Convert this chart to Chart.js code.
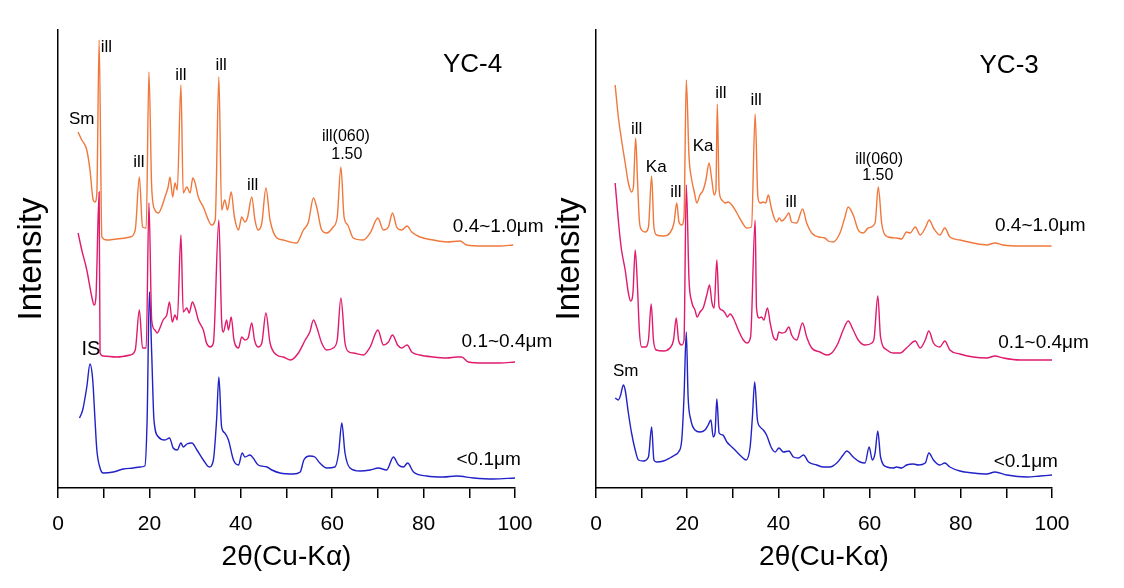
<!DOCTYPE html>
<html><head><meta charset="utf-8">
<script src="https://cdn.jsdelivr.net/npm/chart.js@4.4.1/dist/chart.umd.min.js"></script>
<style>
html,body{margin:0;padding:0;background:#fff;}
body{width:1124px;height:588px;position:relative;overflow:hidden;}
#wa{position:absolute;left:0;top:0;width:562px;height:588px;}
#wb{position:absolute;left:540px;top:0;width:584px;height:588px;}
</style></head><body>
<div id="wa"><canvas id="ca"></canvas></div>
<div id="wb"><canvas id="cb"></canvas></div>
<script>
// ---------- data (2θ in degrees, intensity in arbitrary offset units) ----------
const xTickLabels = [0, 20, 40, 60, 80, 100];
const panelTitles = ['YC-4', 'YC-3'];
const seriesNames = ['0.4~1.0μm', '0.1~0.4μm', '<0.1μm'];
const xTitle = '2θ(Cu-Kα)';
const yTitle = 'Intensity';

const yc4_04_10 = [[4.4,356],[5.2,348],[5.9,343],[6.3,338],[7.0,318],[7.7,288],[8.1,286],[8.5,295],[9.0,448],[9.6,251],[10.7,248],[12.8,249],[15.8,251],[16.9,258],[17.8,311],[18.5,261],[19.3,260],[19.9,416],[20.5,301],[21.2,278],[22.0,275],[22.7,281],[23.4,291],[24.1,301],[24.5,311],[25.1,291],[25.6,305],[26.1,298],[26.9,403],[27.4,295],[28.2,301],[28.9,295],[29.5,310],[30.0,305],[30.7,291],[31.8,281],[32.9,268],[33.6,263],[34.4,268],[35.2,411],[35.8,278],[36.5,288],[37.1,278],[37.9,296],[38.6,271],[39.5,258],[40.2,271],[40.9,266],[41.5,271],[42.4,291],[43.1,268],[43.8,258],[44.6,265],[45.5,300],[46.4,268],[47.9,250],[49.3,248],[50.8,246],[52.2,245],[53.7,258],[54.8,266],[55.9,290],[56.6,281],[57.7,258],[58.8,255],[60.2,261],[61.1,271],[61.9,321],[62.6,271],[63.4,263],[64.6,250],[66.8,248],[68.3,255],[70.0,270],[71.2,258],[72.3,261],[73.2,275],[74.1,261],[75.2,258],[76.4,262],[77.4,256],[79.2,251],[82.1,248],[85.1,246],[88.0,247],[89.4,243],[93.1,242],[96.7,242],[99.6,243]];
const yc4_01_04 = [[4.4,255],[5.2,238],[6.3,218],[7.4,191],[7.9,183],[8.3,191],[9.0,296],[9.2,135],[9.9,132],[12.8,131],[15.8,133],[16.9,138],[17.8,178],[18.5,140],[19.3,140],[19.9,285],[20.5,168],[21.2,158],[21.7,155],[22.3,160],[23.0,168],[23.8,173],[24.4,186],[25.0,166],[25.6,173],[26.1,168],[26.9,253],[27.4,176],[28.2,180],[28.7,175],[29.4,186],[30.0,180],[30.7,168],[31.8,158],[32.5,145],[33.3,141],[34.0,145],[35.2,268],[35.8,168],[36.2,156],[36.9,168],[37.3,158],[37.9,171],[38.5,148],[39.5,140],[40.2,151],[40.9,148],[41.6,150],[42.4,165],[43.0,148],[43.8,141],[44.6,145],[45.5,175],[46.4,145],[47.9,133],[49.3,131],[50.9,128],[52.6,135],[54.1,148],[55.1,156],[55.9,168],[56.6,161],[57.7,145],[58.8,138],[60.2,140],[61.1,148],[61.9,190],[62.8,145],[63.7,136],[64.6,135],[66.8,133],[68.3,141],[70.0,158],[71.2,143],[72.3,146],[73.2,153],[74.3,143],[75.2,140],[76.4,143],[77.4,136],[79.2,133],[82.1,131],[85.1,130],[87.2,131],[88.3,131],[89.8,126],[93.1,125],[96.7,125],[100,126]];
const yc4_lt01 = [[4.7,70],[5.4,78],[6.3,101],[7.0,124],[7.6,108],[8.1,68],[8.5,38],[9.2,20],[9.9,15],[12.1,16],[14.3,19],[16.5,20],[17.9,21],[19.0,22],[19.5,68],[20.0,196],[20.5,135],[21.0,68],[22.0,51],[23.4,48],[24.4,50],[25.2,40],[26.1,38],[26.9,45],[27.4,41],[28.2,44],[29.3,45],[30.4,38],[31.8,28],[33.1,21],[34.0,28],[34.7,68],[35.2,111],[35.8,61],[36.5,55],[37.3,48],[38.4,28],[39.5,23],[40.3,35],[40.9,31],[42.0,33],[42.7,30],[43.8,23],[45.7,21],[46.8,18],[48.6,15],[51.5,14],[53.0,16],[53.8,28],[55.1,32],[56.2,31],[57.3,25],[58.8,20],[60.6,21],[61.4,35],[62.1,65],[62.8,35],[63.9,20],[66.1,17],[68.3,18],[70.1,20],[71.9,18],[73.4,31],[74.5,23],[75.6,21],[76.5,25],[77.8,16],[80.7,12],[84.3,11],[87.2,12],[90.9,10],[95.3,9],[100,10]];

const yc3_04_10 = [[4.2,403],[4.9,371],[5.6,348],[6.4,325],[7.1,305],[7.8,296],[8.2,301],[8.7,350],[9.1,308],[9.5,268],[10.0,258],[10.8,256],[11.5,261],[12.2,312],[12.7,261],[13.3,253],[14.8,252],[16.2,255],[17.1,265],[17.7,285],[18.2,266],[18.8,263],[19.3,271],[19.8,408],[20.4,331],[21.0,308],[21.6,295],[22.1,285],[22.8,293],[23.5,298],[24.1,308],[24.8,325],[25.4,308],[25.9,293],[26.3,298],[26.6,384],[27.0,298],[27.6,288],[28.3,285],[29.0,286],[29.8,283],[30.9,275],[32.0,266],[33.1,260],[34.1,261],[34.9,374],[35.5,291],[36.0,285],[36.7,286],[37.2,285],[37.8,293],[38.4,281],[39.0,271],[39.6,266],[40.2,270],[40.7,267],[41.5,270],[42.3,275],[42.9,266],[44.0,265],[45.3,279],[46.2,265],[47.3,255],[48.8,251],[50.2,250],[50.9,247],[52.0,246],[53.5,255],[54.6,271],[55.3,281],[56.4,273],[57.5,258],[58.6,255],[59.7,260],[61.2,265],[61.9,301],[62.7,263],[64.1,251],[65.9,250],[67.0,249],[68.1,256],[68.9,255],[70.0,261],[71.1,253],[72.2,260],[73.1,268],[74.0,260],[75.4,253],[76.5,260],[77.6,251],[79.8,248],[82.7,245],[85.7,243],[87.5,245],[89.3,243],[93.0,242],[97.4,242],[99.9,242]];
const yc3_01_04 = [[4.2,305],[5.1,258],[5.6,238],[6.4,218],[7.1,195],[7.6,187],[8.1,195],[8.6,238],[9.1,201],[9.5,158],[10.0,141],[10.8,141],[11.5,148],[12.1,184],[12.6,148],[13.2,138],[14.8,137],[16.2,140],[17.0,148],[17.6,170],[18.1,148],[18.8,143],[19.3,148],[19.8,303],[20.4,208],[21.0,186],[21.7,178],[22.2,171],[22.8,176],[23.5,180],[24.3,193],[24.9,203],[25.4,186],[25.9,180],[26.5,228],[27.0,181],[27.6,178],[28.3,175],[28.8,171],[29.4,174],[30.1,170],[31.2,158],[32.3,148],[33.1,145],[33.9,151],[34.9,268],[35.2,180],[35.8,170],[36.3,171],[36.8,168],[37.6,180],[38.2,165],[38.9,151],[39.6,148],[40.1,156],[40.7,155],[41.5,156],[42.3,161],[42.9,153],[44.0,148],[45.3,165],[46.2,151],[47.3,140],[49.1,136],[50.6,133],[51.7,135],[53.1,145],[54.2,158],[55.3,167],[56.4,158],[57.5,148],[59.0,143],[60.5,145],[61.0,150],[61.8,192],[62.4,151],[63.8,138],[65.2,135],[66.7,135],[68.1,140],[70.0,147],[71.1,140],[72.2,148],[73.0,157],[74.0,145],[75.4,141],[76.5,147],[77.6,138],[79.8,134],[82.7,131],[85.7,130],[87.5,132],[89.3,130],[93.0,128],[97.4,128],[100,128]];
const yc3_lt01 = [[4.2,90],[4.9,88],[5.4,93],[6.0,103],[6.4,98],[7.1,75],[7.8,55],[8.6,38],[9.3,28],[10.4,27],[11.5,31],[12.2,61],[12.7,28],[13.3,26],[14.8,27],[16.2,30],[17.3,33],[18.1,36],[18.8,48],[19.3,91],[19.8,156],[20.2,91],[20.8,68],[21.7,58],[22.8,56],[23.9,58],[24.6,63],[25.2,68],[25.7,51],[26.1,55],[26.5,89],[27.0,55],[27.8,53],[28.7,46],[29.8,41],[30.9,36],[32.0,31],[32.9,28],[33.8,41],[34.3,71],[34.8,106],[35.4,68],[36.0,61],[36.7,58],[37.4,53],[38.5,40],[39.3,36],[40.1,40],[41.1,36],[42.3,37],[43.3,31],[44.4,30],[45.5,33],[46.6,26],[48.4,23],[49.9,21],[51.3,21],[52.8,25],[54.2,33],[55.0,37],[56.4,31],[57.9,26],[59.0,25],[59.9,41],[60.6,28],[61.2,35],[61.8,57],[62.4,31],[63.8,21],[65.2,20],[65.9,21],[67.0,20],[68.1,23],[69.6,24],[70.7,23],[72.2,25],[73.0,35],[74.0,28],[75.4,23],[76.5,25],[77.6,21],[79.8,17],[82.7,15],[85.7,14],[87.5,16],[90.1,13],[94.5,11],[97.4,12],[100,13]];

// peak / phase annotations: text and where they sit (data coordinates)
const yc4Notes = [
  {t:'ill', x:10.6, y:440.5, s:17}, {t:'Sm', x:5.2, y:369, s:17}, {t:'ill', x:17.7, y:325.5, s:17},
  {t:'ill', x:26.9, y:413, s:17}, {t:'ill', x:35.7, y:423, s:17}, {t:'ill', x:42.6, y:303, s:17},
  {t:'ill(060)', x:63.0, y:351, s:16}, {t:'1.50', x:63.2, y:333, s:16}, {t:'IS', x:7.2, y:139, s:20},
  {t:panelTitles[0], x:90.7, y:423, s:26},
  {t:seriesNames[0], x:86.4, y:261, s:19, a:'left'}, {t:seriesNames[1], x:88.3, y:146, s:19, a:'left'},
  {t:seriesNames[2], x:87.2, y:28, s:19, a:'left'}
];
const yc3Notes = [
  {t:'ill', x:8.9, y:359, s:17}, {t:'Ka', x:13.2, y:320.5, s:17}, {t:'ill', x:17.5, y:295.5, s:17},
  {t:'Ka', x:23.5, y:342, s:17}, {t:'ill', x:27.4, y:395, s:17}, {t:'ill', x:35.1, y:388, s:17},
  {t:'ill', x:42.8, y:286, s:17}, {t:'ill(060)', x:62.1, y:328, s:16}, {t:'1.50', x:61.8, y:312, s:16},
  {t:'Sm', x:6.5, y:117, s:17}, {t:panelTitles[1], x:90.6, y:422, s:26},
  {t:seriesNames[0], x:87.5, y:262, s:19, a:'left'}, {t:seriesNames[1], x:88.2, y:145, s:19, a:'left'},
  {t:seriesNames[2], x:87.2, y:26.5, s:19, a:'left'}
];

// ---------- chart construction ----------
const FONT = "'Liberation Sans', Arial, Helvetica, sans-serif";
const COLORS = ['#F0783C', '#E01A6C', '#2121C8'];

const notesPlugin = {
  id: 'notes',
  afterDatasetsDraw(chart, args, opts) {
    const {ctx} = chart, xs = chart.scales.x, ys = chart.scales.y;
    ctx.save();
    ctx.fillStyle = '#000';
    ctx.textBaseline = 'middle';
    for (const n of (opts.items || [])) {
      ctx.font = n.s + 'px ' + FONT;
      ctx.textAlign = n.a || 'center';
      ctx.fillText(n.t, xs.getPixelForValue(n.x), ys.getPixelForValue(n.y));
    }
    ctx.restore();
  }
};

function makeChart(canvasId, series, notes, yWidth, rightPad, yTitlePad) {
  return new Chart(document.getElementById(canvasId), {
    type: 'line',
    data: {
      datasets: series.map((s, i) => ({
        label: seriesNames[i],
        data: s.map(p => ({x: p[0], y: p[1]})),
        borderColor: COLORS[i],
        borderWidth: 1.4,
        pointRadius: 0,
        cubicInterpolationMode: 'monotone',
        fill: false
      }))
    },
    options: {
      responsive: true,
      maintainAspectRatio: false,
      animation: false,
      events: [],
      layout: {padding: {left: 0, top: 30, right: rightPad, bottom: 0}},
      plugins: {legend: {display: false}, tooltip: {enabled: false}, notes: {items: notes}},
      scales: {
        x: {
          type: 'linear', min: 0, max: 100,
          grid: {display: true, drawOnChartArea: false, drawTicks: true, tickLength: 10, color: '#000', lineWidth: 1.5},
          border: {display: true, color: '#000', width: 1.5},
          ticks: {stepSize: 10, padding: 14, color: '#000', maxRotation: 0, autoSkip: false,
                  font: {family: FONT, size: 21},
                  callback: v => xTickLabels.includes(v) ? String(v) : ''},
          title: {display: true, text: xTitle, color: '#000', font: {family: FONT, size: 28}, padding: {top: 0, bottom: 14}},
          afterFit: s => { s.height = 100; }
        },
        y: {
          min: 0, max: 458,
          grid: {display: false, drawOnChartArea: false, drawTicks: false},
          border: {display: true, color: '#000', width: 1.5},
          ticks: {display: false},
          title: {display: true, text: yTitle, color: '#000', font: {family: FONT, size: 33}, padding: {top: yTitlePad, bottom: 0}},
          afterFit: s => { s.width = yWidth; }
        }
      }
    },
    plugins: [notesPlugin]
  });
}

makeChart('ca', [yc4_04_10, yc4_01_04, yc4_lt01], yc4Notes, 58, 47, 12);
makeChart('cb', [yc3_04_10, yc3_01_04, yc3_lt01], yc3Notes, 56, 72, 10);
</script>
</body></html>
